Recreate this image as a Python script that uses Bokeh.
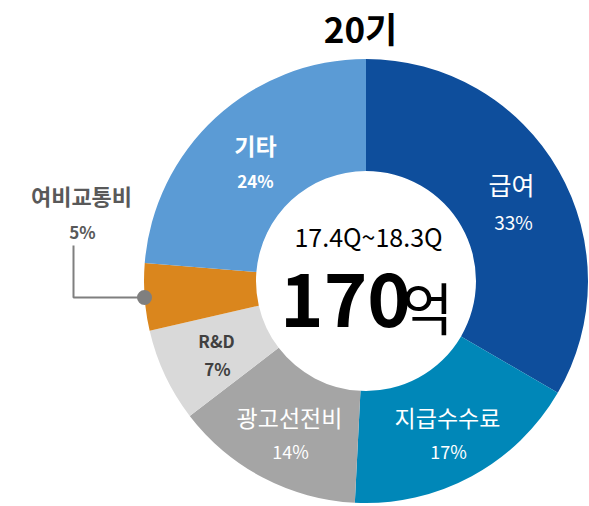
import numpy as np
from bokeh.plotting import figure
from bokeh.models import Range1d, ColumnDataSource
from bokeh.core.properties import value
from bokeh.embed import file_html
from bokeh.resources import INLINE

# ---- data ----
categories = ["급여", "지급수수료", "광고선전비", "R&D", "여비교통비", "기타"]
shares = [33.4, 17.4, 13.8, 6.8, 4.9, 23.7]
colors = ["#0E4E9C", "#0087B8", "#A5A5A5", "#D9D9D9", "#DA861D", "#5B9BD5"]
title_text = "20기"
period_text = "17.4Q~18.3Q"
total_text = "170"
unit_text = "억"

W, H = 589, 506
FONT = "Noto Sans CJK KR"

def Y(sy):
    # convert screen y (pixels from top of figure) to data y
    return H - sy

p = figure(width=W, height=H, output_backend="svg", toolbar_location=None,
           x_range=Range1d(0, W), y_range=Range1d(0, H),
           min_border=0, outline_line_color=None)
p.axis.visible = False
p.grid.visible = False
p.background_fill_color = "white"
p.border_fill_color = "white"

vals = np.array(shares, dtype=float)
frac = vals / vals.sum()
cum = np.concatenate([[0.0], np.cumsum(frac)])
start = np.pi / 2 - 2 * np.pi * cum[:-1]
end = np.pi / 2 - 2 * np.pi * cum[1:]

cx, cy = 365.5, Y(280.5)
src = ColumnDataSource(dict(start=start, end=end, color=colors, cat=categories))
p.annular_wedge(x=cx, y=cy, inner_radius=110, outer_radius=222,
                inner_radius_units="screen", outer_radius_units="screen",
                start_angle="start", end_angle="end", direction="clock",
                fill_color="color", line_color=None, source=src)

pct = [f"{int(round(v))}%" for v in vals / vals.sum() * 100]

def txt(x, sy, t, size, color, bold=False):
    p.text(x=[x], y=[Y(sy)], text=[t], text_font=value(FONT),
           text_font_size=f"{size}px", text_color=color,
           text_font_style="bold" if bold else "normal",
           text_align="center", text_baseline="middle")

# slice labels
txt(511, 183, categories[0], 25, "white")
txt(513, 221, pct[0], 19, "white")
txt(447, 416, categories[1], 23, "white")
txt(448, 450, pct[1], 18, "white")
txt(289, 416, categories[2], 23, "white")
txt(290, 450, pct[2], 18, "white")
txt(216, 340, categories[3], 17, "#404040", bold=True)
txt(217, 368, pct[3], 17, "#404040", bold=True)
txt(81, 194, categories[4], 22, "#595959", bold=True)
txt(82, 231, pct[4], 17, "#595959", bold=True)
p.line(x=[73, 73, 140], y=[Y(245), Y(297), Y(297)], line_color="#7F7F7F", line_width=2)
p.scatter(x=[144], y=[Y(297)], size=15, fill_color="#7F7F7F", line_color=None)
txt(255, 144, categories[5], 23, "white", bold=True)
txt(255, 180, pct[5], 17, "white", bold=True)

# title
txt(360, 27, title_text, 35, "black", bold=True)
# center
txt(368, 235, period_text, 25, "black")
txt(345, 299, total_text, 74, "black", bold=True)
txt(427, 305, unit_text, 56, "black")

open("out.html", "w").write(file_html(p, INLINE))
